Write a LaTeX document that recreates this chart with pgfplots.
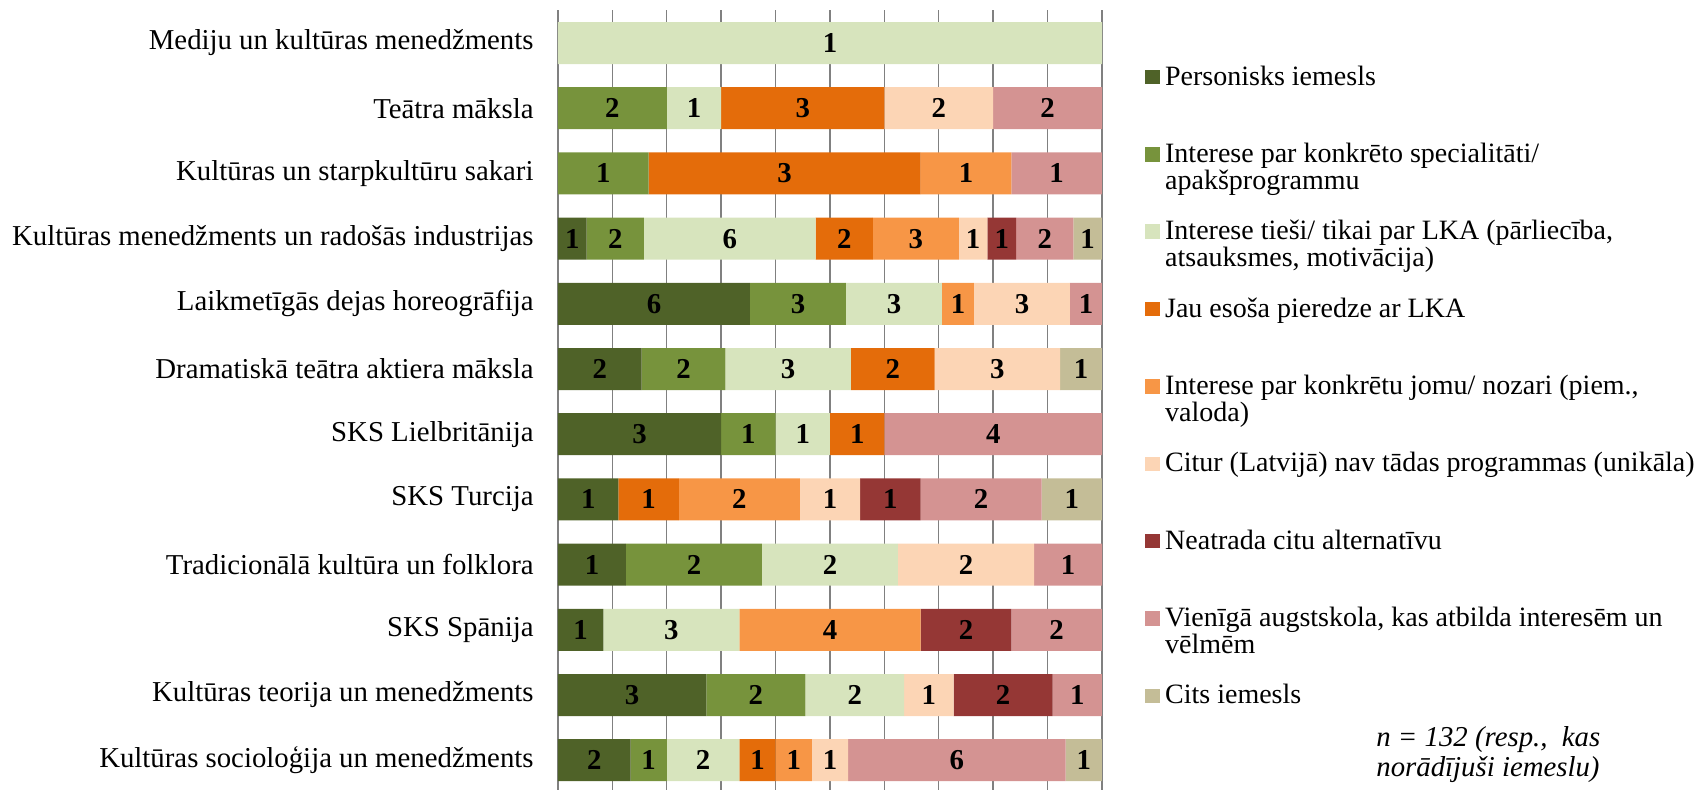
\documentclass[border=0pt]{standalone}
\usepackage{fontspec}
\setmainfont{Liberation Serif}
\usepackage{pgfplots}
\pgfplotsset{compat=1.18}
\usepackage{pgfplotstable}

\definecolor{cP}{HTML}{4F6228}
\definecolor{cS}{HTML}{77933C}
\definecolor{cL}{HTML}{D7E4BD}
\definecolor{cJ}{HTML}{E46C0A}
\definecolor{cI}{HTML}{F79646}
\definecolor{cC}{HTML}{FCD5B5}
\definecolor{cA}{HTML}{953735}
\definecolor{cV}{HTML}{D49392}
\definecolor{cO}{HTML}{C4BD97}

% counts per reason; T = total per programme
\pgfplotstableread{
idx P S L J I C A V O T
0   0 0 1 0 0 0 0 0 0 1
1   0 2 1 3 0 2 0 2 0 10
2   0 1 0 3 1 0 0 1 0 6
3   1 2 6 2 3 1 1 2 1 19
4   6 3 3 0 1 3 0 1 0 17
5   2 2 3 2 0 3 0 0 1 13
6   3 1 1 1 0 0 0 4 0 10
7   1 0 0 1 2 1 1 2 1 9
8   1 2 2 0 0 2 0 1 0 8
9   1 0 3 0 4 0 2 2 0 12
10  3 2 2 0 0 1 2 1 0 11
11  2 1 2 1 1 1 0 6 1 15
}\data

\newcommand\lgd[1]{\parbox[t]{280pt}{\fontsize{14}{13.6}\selectfont\raggedright #1}}

\begin{document}
\begin{tikzpicture}[font=\fontsize{14.4}{16}\selectfont]
\begin{axis}[name=ax, scale only axis, width=272pt, height=391.2pt,
  xbar stacked, bar width=21pt,
  xmin=0, xmax=100, ymin=-0.5, ymax=11.5, y dir=reverse,
  ytick={0,...,11},
  yticklabels={Mediju un kultūras menedžments, Teātra māksla, Kultūras un starpkultūru sakari, Kultūras menedžments un radošās industrijas, Laikmetīgās dejas horeogrāfija, Dramatiskā teātra aktiera māksla, SKS Lielbritānija, SKS Turcija, Tradicionālā kultūra un folklora, SKS Spānija, Kultūras teorija un menedžments, Kultūras socioloģija un menedžments},
  xtick={0,10,...,100}, xticklabels={},
  xmajorgrids, major grid style={color=black!50, line width=0.7pt},
  tick style={draw=none}, axis line style={draw=none},
  yticklabel style={inner sep=0pt, xshift=-12pt, font=\fontsize{14.4}{16}\selectfont},
  legend cell align=left,
  legend style={draw=none, fill=none, at={(1.079,0.93)}, anchor=north west,
    inner sep=0pt, row sep=27.45pt, column sep=2.7pt, nodes={inner sep=0pt}},
  legend image code/.code={\fill[#1] (0pt,-3.7pt) rectangle (7.2pt,3.5pt);},
  seg/.style={fill=#1, draw=none},
]
\addplot[seg=cP] table[y=idx, x expr=\thisrow{P}/\thisrow{T}*100] {\data};
\addlegendentry{\lgd{Personisks iemesls}}
\addplot[seg=cS] table[y=idx, x expr=\thisrow{S}/\thisrow{T}*100] {\data};
\addlegendentry{\lgd{Interese par konkrēto specialitāti/\\apakšprogrammu}}
\addplot[seg=cL] table[y=idx, x expr=\thisrow{L}/\thisrow{T}*100] {\data};
\addlegendentry{\lgd{Interese tieši/ tikai par LKA (pārliecība,\\atsauksmes, motivācija)}}
\addplot[seg=cJ] table[y=idx, x expr=\thisrow{J}/\thisrow{T}*100] {\data};
\addlegendentry{\lgd{Jau esoša pieredze ar LKA}}
\addplot[seg=cI] table[y=idx, x expr=\thisrow{I}/\thisrow{T}*100] {\data};
\addlegendentry{\lgd{Interese par konkrētu jomu/ nozari (piem.,\\valoda)}}
\addplot[seg=cC] table[y=idx, x expr=\thisrow{C}/\thisrow{T}*100] {\data};
\addlegendentry{\lgd{Citur (Latvijā) nav tādas programmas (unikāla)}}
\addplot[seg=cA] table[y=idx, x expr=\thisrow{A}/\thisrow{T}*100] {\data};
\addlegendentry{\lgd{Neatrada citu alternatīvu}}
\addplot[seg=cV] table[y=idx, x expr=\thisrow{V}/\thisrow{T}*100] {\data};
\addlegendentry{\lgd{Vienīgā augstskola, kas atbilda interesēm un\\vēlmēm}}
\addplot[seg=cO] table[y=idx, x expr=\thisrow{O}/\thisrow{T}*100] {\data};
\addlegendentry{\lgd{Cits iemesls}}
\end{axis}
% segment count labels, centred in each segment
\begin{axis}[at={(ax.south west)}, anchor=south west, scale only axis, width=272pt, height=391.2pt,
  xmin=0, xmax=100, ymin=-0.5, ymax=11.5, y dir=reverse, hide axis, clip=false,
  point meta=explicit symbolic,
  nodes near coords={\ifnum\pgfplotspointmeta>0 \pgfplotspointmeta\fi},
  every node near coord/.append style={font=\bfseries\fontsize{14.4}{16}\selectfont, anchor=center, inner sep=0pt, text=black},
  lab/.style={draw=none, mark=none},
]
\addplot[lab] table[y=idx, meta=P, x expr={(\thisrow{P}/2)/\thisrow{T}*100}] {\data};
\addplot[lab] table[y=idx, meta=S, x expr={(\thisrow{P}+\thisrow{S}/2)/\thisrow{T}*100}] {\data};
\addplot[lab] table[y=idx, meta=L, x expr={(\thisrow{P}+\thisrow{S}+\thisrow{L}/2)/\thisrow{T}*100}] {\data};
\addplot[lab] table[y=idx, meta=J, x expr={(\thisrow{P}+\thisrow{S}+\thisrow{L}+\thisrow{J}/2)/\thisrow{T}*100}] {\data};
\addplot[lab] table[y=idx, meta=I, x expr={(\thisrow{P}+\thisrow{S}+\thisrow{L}+\thisrow{J}+\thisrow{I}/2)/\thisrow{T}*100}] {\data};
\addplot[lab] table[y=idx, meta=C, x expr={(\thisrow{P}+\thisrow{S}+\thisrow{L}+\thisrow{J}+\thisrow{I}+\thisrow{C}/2)/\thisrow{T}*100}] {\data};
\addplot[lab] table[y=idx, meta=A, x expr={(\thisrow{P}+\thisrow{S}+\thisrow{L}+\thisrow{J}+\thisrow{I}+\thisrow{C}+\thisrow{A}/2)/\thisrow{T}*100}] {\data};
\addplot[lab] table[y=idx, meta=V, x expr={(\thisrow{P}+\thisrow{S}+\thisrow{L}+\thisrow{J}+\thisrow{I}+\thisrow{C}+\thisrow{A}+\thisrow{V}/2)/\thisrow{T}*100}] {\data};
\addplot[lab] table[y=idx, meta=O, x expr={(\thisrow{P}+\thisrow{S}+\thisrow{L}+\thisrow{J}+\thisrow{I}+\thisrow{C}+\thisrow{A}+\thisrow{V}+\thisrow{O}/2)/\thisrow{T}*100}] {\data};
\end{axis}
\node[anchor=base west, inner sep=0pt] at ([xshift=409pt, yshift=-367.8pt]ax.north west)
  {\parbox[t]{150pt}{\itshape\fontsize{14.4}{15}\selectfont n = 132 (resp.,\ \ kas\\norādījuši iemeslu)}};
\pgfresetboundingbox
\path ([xshift=-279pt, yshift=5.2pt]ax.north west) rectangle ([xshift=302pt, yshift=1.8pt]ax.south east);
\end{tikzpicture}
\end{document}
